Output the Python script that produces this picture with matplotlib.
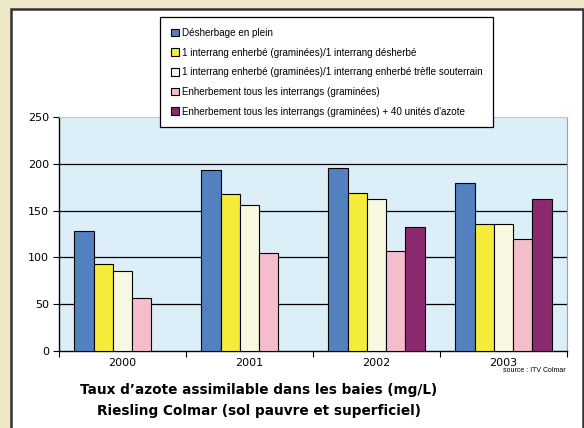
import numpy as np
import matplotlib.pyplot as plt
from matplotlib.patches import Rectangle

annees = ['2000', '2001', '2002', '2003']
series = [
    "Désherbage en plein",
    "1 interrang enherbé (graminées)/1 interrang désherbé",
    "1 interrang enherbé (graminées)/1 interrang enherbé trèfle souterrain",
    "Enherbement tous les interrangs (graminées)",
    "Enherbement tous les interrangs (graminées) + 40 unités d'azote",
]
desherbage = [128, 193, 196, 180]
inter_desherbe = [93, 168, 169, 136]
inter_trefle = [85, 156, 162, 136]
tous_graminees = [57, 105, 107, 120]
tous_azote = [np.nan, np.nan, 132, 162]
couleurs = ['#5381c0', '#f5ec3a', '#f8f7e0', '#f5bccb', '#8b2a6f']

valeurs = [desherbage, inter_desherbe, inter_trefle, tous_graminees, tous_azote]

fig = plt.figure(figsize=(5.84, 4.28), dpi=100, facecolor='#eee8c8')
# panneau blanc
fig.patches.append(Rectangle((11/584, -0.01), 572/584, 1 - 9/428 + 0.01,
                             transform=fig.transFigure, facecolor='white',
                             edgecolor='#333333', linewidth=1.8, zorder=-1))

ax = fig.add_axes([59/584, 77/428, 508/584, 234/428])
ax.set_zorder(1)
ax.set_facecolor('#dceef7')

x = np.arange(len(annees))
w = 0.152
for i, (nom, v) in enumerate(zip(series, valeurs)):
    ax.bar(x + (i - 2) * w, v, w, color=couleurs[i], edgecolor='black',
           linewidth=0.8, label=nom, zorder=3)

ax.set_xlim(-0.5, 3.5)
ax.set_ylim(0, 250)
ax.set_yticks([0, 50, 100, 150, 200, 250])
for yv in [50, 100, 150, 200]:
    ax.axhline(yv, color='black', linewidth=0.9, zorder=1)

ax.set_xticks(np.arange(-0.5, 4, 1))
ax.set_xticklabels([])
ax.set_xticks(x, minor=True)
ax.set_xticklabels(annees, minor=True)
ax.tick_params(axis='x', which='minor', length=0, pad=5, labelsize=8)
ax.tick_params(axis='x', which='major', length=4, direction='out')
ax.tick_params(axis='y', length=4, direction='out', labelsize=8, pad=3)
for lab in ax.get_xticklabels(minor=True) + ax.get_yticklabels():
    lab.set_family('DejaVu Sans')

ax.spines['top'].set_color('#c8c8c8')
ax.spines['right'].set_color('#a0a0a0')
ax.spines['left'].set_linewidth(1.0)
ax.spines['bottom'].set_linewidth(1.0)

leg = fig.legend(loc='upper left', bbox_to_anchor=(160/584, 1 - 17/428),
                 prop={'family': 'Liberation Sans', 'size': 7.1},
                 frameon=True, fancybox=False, shadow=False,
                 edgecolor='black', framealpha=1, handlelength=0.8,
                 handleheight=0.8, handletextpad=0.3, labelspacing=0.98,
                 borderpad=1.1, borderaxespad=0)
leg.get_frame().set_linewidth(0.9)
leg.set_zorder(5)

fig.text(566/584, 1 - 371/428, 'source : ITV Colmar', ha='right', va='center',
         fontsize=5, family='Liberation Sans')
fig.text(259/584, 1 - 390/428, "Taux d’azote assimilable dans les baies (mg/L)",
         ha='center', va='center', fontsize=9.8, fontweight='bold')
fig.text(259/584, 1 - 411/428, "Riesling Colmar (sol pauvre et superficiel)",
         ha='center', va='center', fontsize=9.8, fontweight='bold')

fig.savefig('out.png', dpi=100, facecolor=fig.get_facecolor())
